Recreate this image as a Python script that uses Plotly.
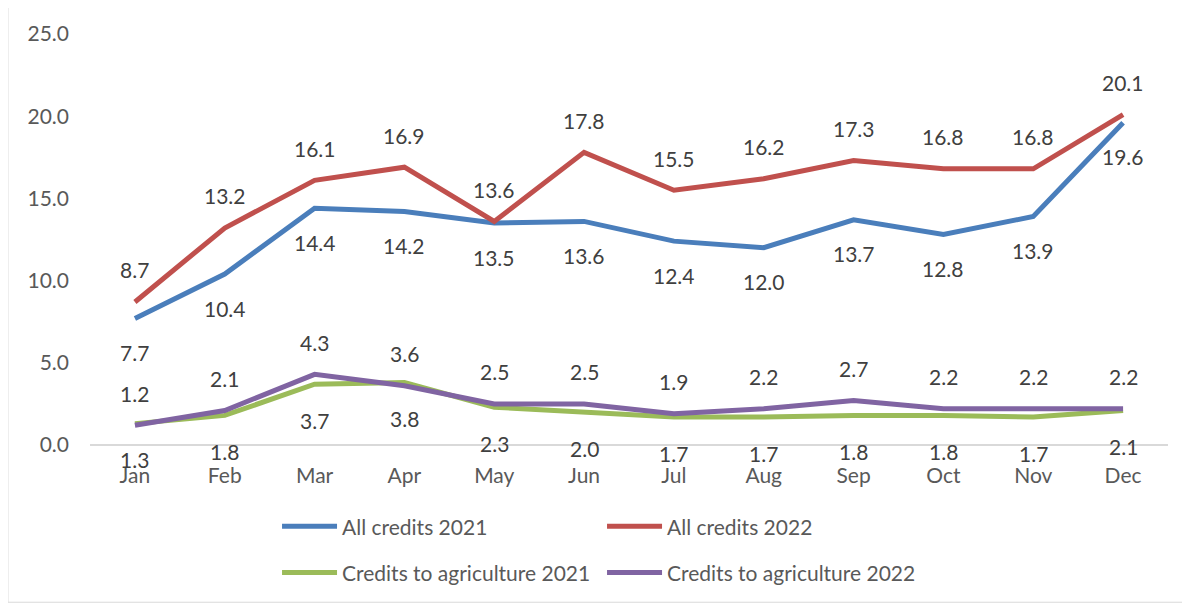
import plotly.graph_objects as go

months = ["Jan", "Feb", "Mar", "Apr", "May", "Jun", "Jul", "Aug", "Sep", "Oct", "Nov", "Dec"]
all_2021 = [7.7, 10.4, 14.4, 14.2, 13.5, 13.6, 12.4, 12.0, 13.7, 12.8, 13.9, 19.6]
all_2022 = [8.7, 13.2, 16.1, 16.9, 13.6, 17.8, 15.5, 16.2, 17.3, 16.8, 16.8, 20.1]
agri_2021 = [1.3, 1.8, 3.7, 3.8, 2.3, 2.0, 1.7, 1.7, 1.8, 1.8, 1.7, 2.1]
agri_2022 = [1.2, 2.1, 4.3, 3.6, 2.5, 2.5, 1.9, 2.2, 2.7, 2.2, 2.2, 2.2]

FONT = "Lato"
FS = 21
series = [
    ("All credits 2021", all_2021, "#4A7EBB", -34, "legend"),
    ("All credits 2022", all_2022, "#C0504D", 32, "legend"),
    ("Credits to agriculture 2021", agri_2021, "#9BBB59", -36, "legend2"),
    ("Credits to agriculture 2022", agri_2022, "#8064A2", 32, "legend2"),
]

fig = go.Figure()
annotations = []
for name, vals, color, shift, leg in series:
    fig.add_trace(go.Scatter(
        x=months, y=vals, mode="lines", name=name,
        line=dict(color=color, width=5), legend=leg,
    ))
    for m, v in zip(months, vals):
        annotations.append(dict(
            x=m, y=v, xref="x", yref="y", text=f"{v:.1f}", showarrow=False,
            yshift=shift, font=dict(family=FONT, size=FS, color="#404040"),
        ))

fig.update_layout(
    width=1190, height=605,
    margin=dict(l=82, r=30, t=24, b=168),
    paper_bgcolor="white", plot_bgcolor="white",
    font=dict(family=FONT, size=FS, color="#595959"),
    annotations=annotations,
    xaxis=dict(
        showgrid=False, showline=False, zeroline=False, ticks="",
        tickfont=dict(family=FONT, size=FS, color="#595959"),
        ticklabelstandoff=16, range=[-0.5, 11.5],
    ),
    yaxis=dict(
        range=[0, 25], dtick=5, tickformat=".1f", showgrid=False,
        zeroline=True, zerolinecolor="#D9D9D9", zerolinewidth=2,
        showline=False, ticks="", ticklabelstandoff=20,
        tickfont=dict(family=FONT, size=FS, color="#595959"),
    ),
    legend=dict(
        orientation="h", x=0.1735, y=-0.1987, xanchor="left", yanchor="middle",
        entrywidth=255, itemwidth=55, font=dict(family=FONT, size=FS, color="#595959"),
        bgcolor="rgba(0,0,0,0)",
    ),
    legend2=dict(
        orientation="h", x=0.1735, y=-0.311, xanchor="left", yanchor="middle",
        entrywidth=255, itemwidth=55, font=dict(family=FONT, size=FS, color="#595959"),
        bgcolor="rgba(0,0,0,0)",
    ),
    shapes=[dict(
        type="rect", xref="paper", yref="paper",
        x0=-0.0761, x1=1.0176, y0=-0.3826, y1=1.0702,
        line=dict(color="#D9D9D9", width=1), fillcolor="rgba(0,0,0,0)", layer="below",
    )],
)

fig.write_html("out.html")
